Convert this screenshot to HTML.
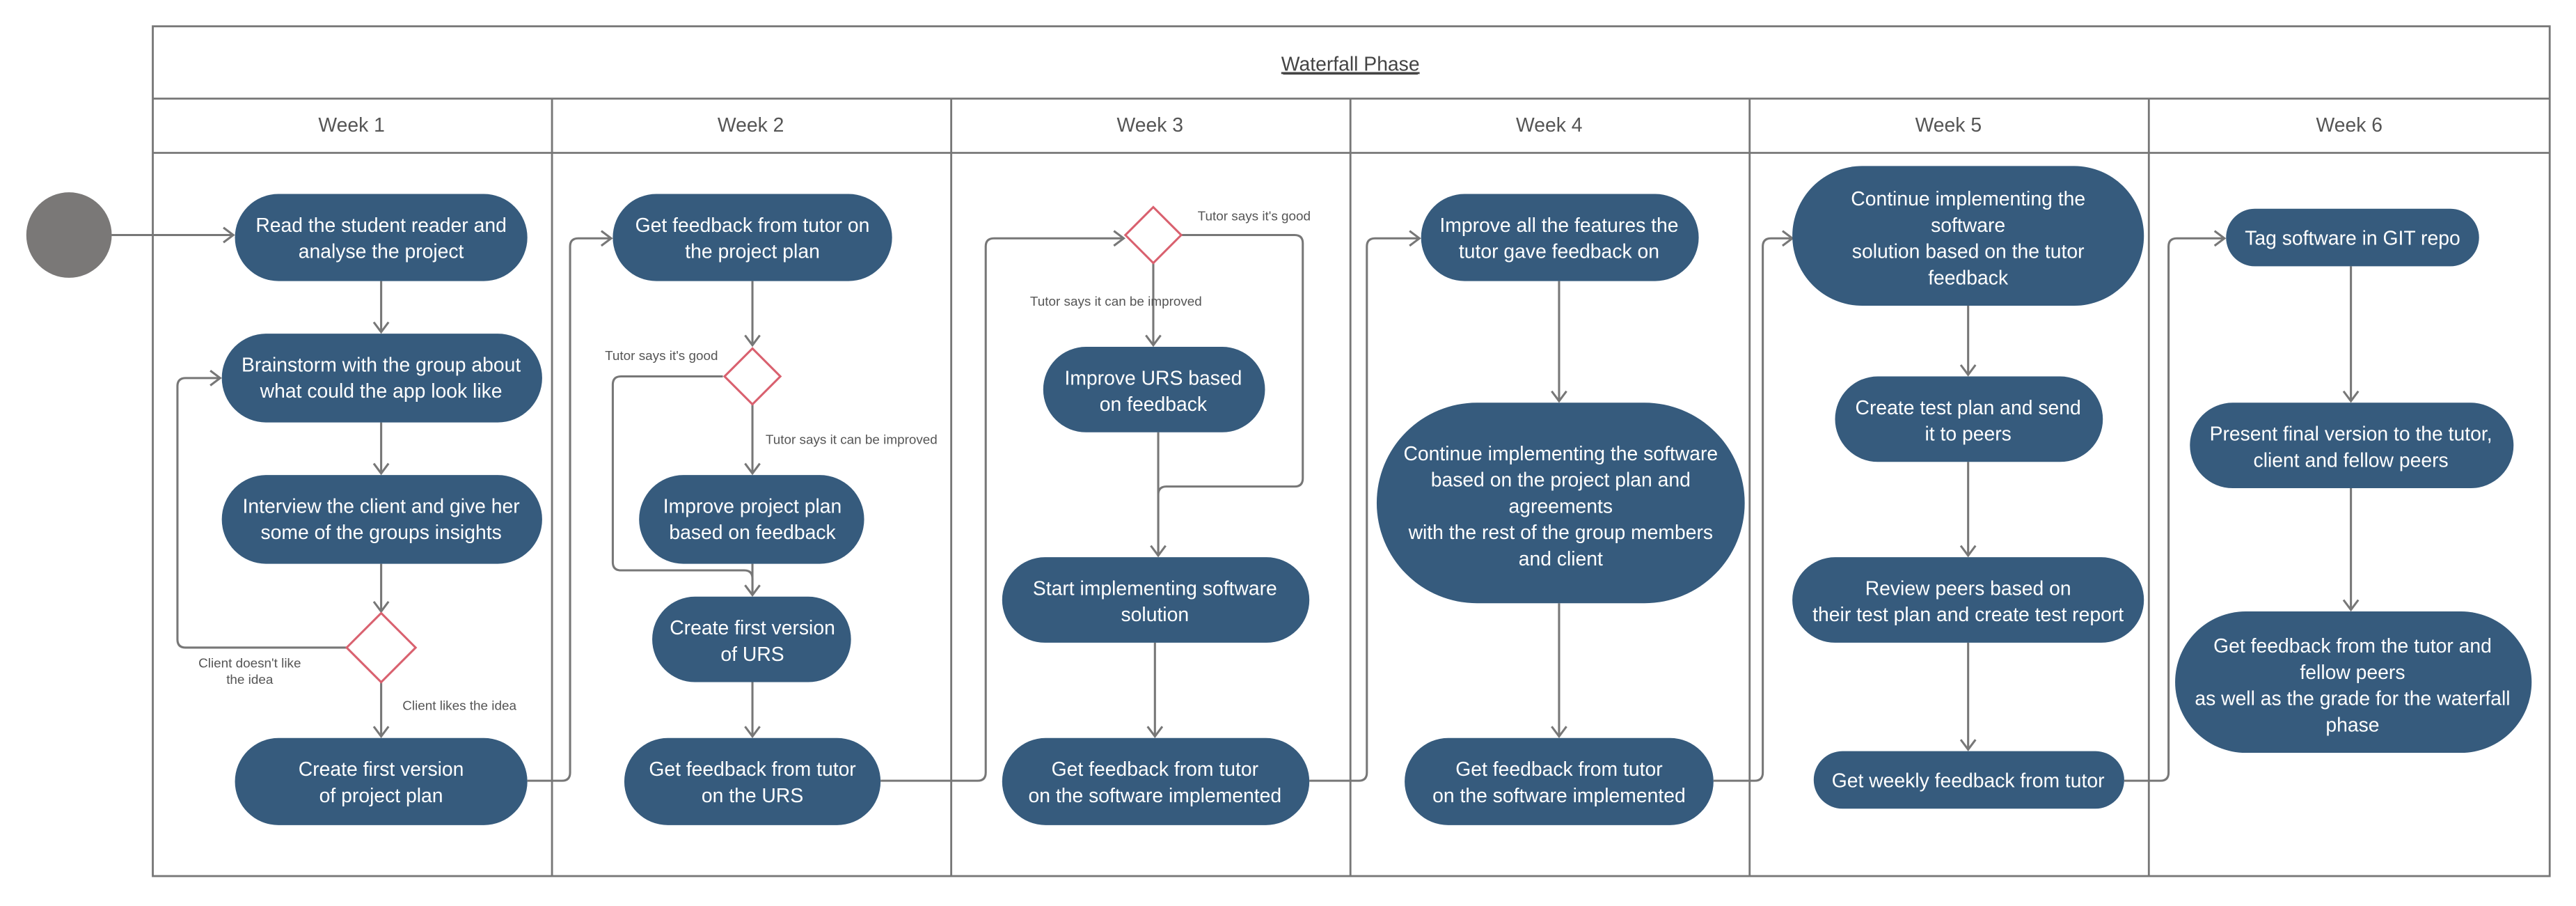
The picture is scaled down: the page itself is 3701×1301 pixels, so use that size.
<!DOCTYPE html>
<html><head><meta charset="utf-8"><style>
html,body{margin:0;padding:0;background:#fff;}
svg{display:block;}
text{font-family:"Liberation Sans","DejaVu Sans",sans-serif;}
.n{fill:#365b7d;}
.t{fill:#fff;font-size:12px;text-anchor:middle;}
.l{fill:none;stroke:#777;stroke-width:1.3;}
.f{fill:none;stroke:#777;stroke-width:1.2;}
.s{fill:#555;font-size:8px;}
.d{fill:#fff;stroke:#d9616f;stroke-width:1.3;}
</style></head><body>
<svg width="3701" height="1301" viewBox="0 0 1568 551.2" xmlns="http://www.w3.org/2000/svg">
<defs>
<marker id="a" markerUnits="userSpaceOnUse" markerWidth="12" markerHeight="12" refX="7" refY="5" orient="auto">
<path d="M1,0.5 L7,5 L1,9.5" fill="none" stroke="#777" stroke-width="1.3"/>
</marker>
</defs>
<!-- frame -->
<rect x="93" y="16" width="1459" height="517" class="f"/>
<line x1="93" y1="60" x2="1552" y2="60" class="f"/>
<line x1="93" y1="93" x2="1552" y2="93" class="f"/>
<line x1="336" y1="60" x2="336" y2="533" class="f"/>
<line x1="579" y1="60" x2="579" y2="533" class="f"/>
<line x1="822" y1="60" x2="822" y2="533" class="f"/>
<line x1="1065" y1="60" x2="1065" y2="533" class="f"/>
<line x1="1308" y1="60" x2="1308" y2="533" class="f"/>
<text x="822" y="43" text-anchor="middle" font-size="12" fill="#444" text-decoration="underline">Waterfall Phase</text>
<line x1="781" y1="45" x2="863" y2="45" stroke="#444" stroke-width="0.8"/>
<g fill="#555" font-size="12" text-anchor="middle">
<text x="214" y="80">Week 1</text><text x="457" y="80">Week 2</text><text x="700" y="80">Week 3</text>
<text x="943" y="80">Week 4</text><text x="1186" y="80">Week 5</text><text x="1430" y="80">Week 6</text>
</g>
<!-- start -->
<circle cx="42" cy="143" r="26" fill="#7a7877"/>
<line x1="68" y1="143" x2="142" y2="143" class="l" marker-end="url(#a)"/>

<!-- connectors -->
<g class="l">
<path d="M232,171 V202" marker-end="url(#a)"/>
<path d="M232,257 V288" marker-end="url(#a)"/>
<path d="M232,343 V372" marker-end="url(#a)"/>
<path d="M232,415 V448" marker-end="url(#a)"/>
<path d="M211,394 H113 Q108,394 108,389 V235 Q108,230 113,230 H134" marker-end="url(#a)"/>
<path d="M321,475 H342 Q347,475 347,470 V150 Q347,145 352,145 H372" marker-end="url(#a)"/>
<path d="M458,171 V210" marker-end="url(#a)"/>
<path d="M458,246 V288" marker-end="url(#a)"/>
<path d="M440,229 H378 Q373,229 373,234 V342 Q373,347 378,347 H453 Q458,347 458,352 V362" marker-end="url(#a)"/>
<path d="M458,343 V362"/>
<path d="M458,415 V448" marker-end="url(#a)"/>
<path d="M536,475 H595 Q600,475 600,470 V150 Q600,145 605,145 H684" marker-end="url(#a)"/>
<path d="M702,160 V210" marker-end="url(#a)"/>
<path d="M719,143 H788 Q793,143 793,148 V291 Q793,296 788,296 H710 Q705,296 705,301 V338" marker-end="url(#a)"/>
<path d="M705,263 V338"/>
<path d="M703,391 V448" marker-end="url(#a)"/>
<path d="M797,475 H827 Q832,475 832,470 V150 Q832,145 837,145 H864" marker-end="url(#a)"/>
<path d="M949,171 V244" marker-end="url(#a)"/>
<path d="M949,367 V448" marker-end="url(#a)"/>
<path d="M1043,475 H1068 Q1073,475 1073,470 V150 Q1073,145 1078,145 H1091" marker-end="url(#a)"/>
<path d="M1198,186 V228" marker-end="url(#a)"/>
<path d="M1198,281 V338" marker-end="url(#a)"/>
<path d="M1198,391 V456" marker-end="url(#a)"/>
<path d="M1293,475 H1315 Q1320,475 1320,470 V150 Q1320,145 1325,145 H1354" marker-end="url(#a)"/>
<path d="M1431,162 V244" marker-end="url(#a)"/>
<path d="M1431,297 V371" marker-end="url(#a)"/>
</g>

<!-- diamonds -->
<polygon class="d" points="232,373 253,394 232,415 211,394"/>
<polygon class="d" points="458,212 475,229 458,246 441,229"/>
<polygon class="d" points="702,126 719,143 702,160 685,143"/>

<!-- small labels -->
<g class="s">
<text x="152" y="406" text-anchor="middle">Client doesn't like</text>
<text x="152" y="416" text-anchor="middle">the idea</text>
<text x="245" y="432">Client likes the idea</text>
<text x="437" y="219" text-anchor="end">Tutor says it's good</text>
<text x="466" y="270">Tutor says it can be improved</text>
<text x="729" y="134">Tutor says it's good</text>
<text x="627" y="186">Tutor says it can be improved</text>
</g>

<!-- nodes -->
<rect class="n" x="143" y="118" width="178" height="53" rx="26.5"/>
<text class="t" x="232" y="141">Read the student reader  and<tspan x="232" dy="16">analyse the project</tspan></text>
<rect class="n" x="135" y="203" width="195" height="54" rx="27"/>
<text class="t" x="232" y="226">Brainstorm with the group about<tspan x="232" dy="16">what could the app look like</tspan></text>
<rect class="n" x="135" y="289" width="195" height="54" rx="27"/>
<text class="t" x="232" y="312">Interview the client and give her<tspan x="232" dy="16">some of the groups insights</tspan></text>
<rect class="n" x="143" y="449" width="178" height="53" rx="26.5"/>
<text class="t" x="232" y="472">Create first version<tspan x="232" dy="16">of project plan</tspan></text>

<rect class="n" x="373" y="118" width="170" height="53" rx="26.5"/>
<text class="t" x="458" y="141">Get feedback from tutor on<tspan x="458" dy="16">the project plan</tspan></text>
<rect class="n" x="389" y="289" width="137" height="54" rx="27"/>
<text class="t" x="458" y="312">Improve project plan<tspan x="458" dy="16">based on feedback</tspan></text>
<rect class="n" x="397" y="363" width="121" height="52" rx="26"/>
<text class="t" x="458" y="386">Create first version<tspan x="458" dy="16">of URS</tspan></text>
<rect class="n" x="380" y="449" width="156" height="53" rx="26.5"/>
<text class="t" x="458" y="472">Get feedback from tutor<tspan x="458" dy="16">on the URS</tspan></text>

<rect class="n" x="635" y="211" width="135" height="52" rx="26"/>
<text class="t" x="702" y="234">Improve URS based<tspan x="702" dy="16">on feedback</tspan></text>
<rect class="n" x="610" y="339" width="187" height="52" rx="26"/>
<text class="t" x="703" y="362">Start implementing software<tspan x="703" dy="16">solution</tspan></text>
<rect class="n" x="610" y="449" width="187" height="53" rx="26.5"/>
<text class="t" x="703" y="472">Get feedback from tutor<tspan x="703" dy="16">on the software  implemented</tspan></text>

<rect class="n" x="865" y="118" width="169" height="53" rx="26.5"/>
<text class="t" x="949" y="141">Improve all the features the<tspan x="949" dy="16">tutor gave feedback on</tspan></text>
<rect class="n" x="838" y="245" width="224" height="122" rx="61"/>
<text class="t" x="950" y="280">Continue implementing the software<tspan x="950" dy="16">based on the project plan and</tspan><tspan x="950" dy="16">agreements</tspan><tspan x="950" dy="16">with the rest of the group members</tspan><tspan x="950" dy="16">and client</tspan></text>
<rect class="n" x="855" y="449" width="188" height="53" rx="26.5"/>
<text class="t" x="949" y="472">Get feedback from tutor<tspan x="949" dy="16">on the software  implemented</tspan></text>

<rect class="n" x="1091" y="101" width="214" height="85" rx="42.5"/>
<text class="t" x="1198" y="125">Continue implementing the<tspan x="1198" dy="16">software</tspan><tspan x="1198" dy="16">solution based on the tutor</tspan><tspan x="1198" dy="16">feedback</tspan></text>
<rect class="n" x="1117" y="229" width="163" height="52" rx="26"/>
<text class="t" x="1198" y="252">Create test plan and send<tspan x="1198" dy="16">it to peers</tspan></text>
<rect class="n" x="1091" y="339" width="214" height="52" rx="26"/>
<text class="t" x="1198" y="362">Review peers based on<tspan x="1198" dy="16">their test plan and create test report</tspan></text>
<rect class="n" x="1104" y="457" width="189" height="35" rx="17.5"/>
<text class="t" x="1198" y="479">Get weekly feedback from tutor</text>

<rect class="n" x="1355" y="127" width="154" height="35" rx="17.5"/>
<text class="t" x="1432" y="149">Tag software in GIT repo</text>
<rect class="n" x="1333" y="245" width="197" height="52" rx="26"/>
<text class="t" x="1431" y="268">Present final version to the tutor,<tspan x="1431" dy="16">client and fellow peers</tspan></text>
<rect class="n" x="1324" y="372" width="217" height="86" rx="43"/>
<text class="t" x="1432" y="397">Get feedback from the tutor and<tspan x="1432" dy="16">fellow peers</tspan><tspan x="1432" dy="16">as well as the grade for the waterfall</tspan><tspan x="1432" dy="16">phase</tspan></text>
</svg>
</body></html>
